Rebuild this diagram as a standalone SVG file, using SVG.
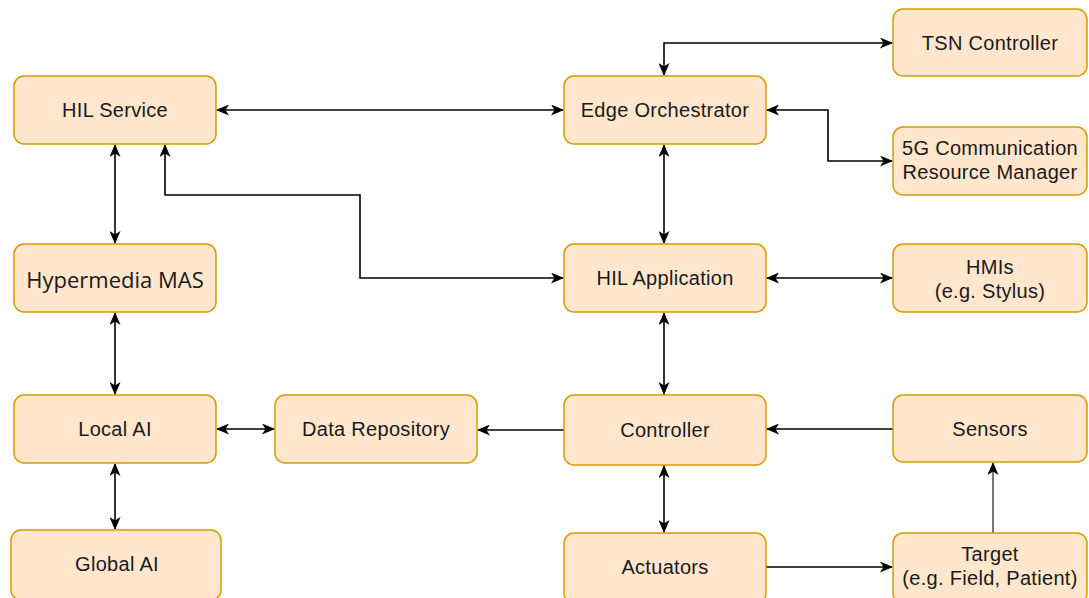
<svg xmlns="http://www.w3.org/2000/svg" width="1089" height="598" viewBox="0 0 1089 598">
<style>
.n rect{fill:#ffe6cc;stroke:#d79b00;stroke-width:1.5}
.n text{font-family:"Liberation Sans",Arial,sans-serif;font-size:20px;letter-spacing:0.3px;fill:#1a1a1a;text-anchor:middle;dominant-baseline:central}
.c path{fill:none;stroke:#000;stroke-width:1.6}
</style>
<defs>
<marker id="a" viewBox="0 0 13 11" refX="12" refY="5.5" markerWidth="13" markerHeight="11" markerUnits="userSpaceOnUse" orient="auto-start-reverse">
<path d="M0,0 L13,5.5 L0,11 L3.5,5.5 z" fill="#000"/>
</marker>
</defs>
<rect width="1089" height="598" fill="#fff"/>
<g class="c">
<path d="M217,110 H563" marker-start="url(#a)" marker-end="url(#a)"/>
<path d="M664,75 V43 H892" marker-start="url(#a)" marker-end="url(#a)"/>
<path d="M767,110 H828 V161 H892" marker-start="url(#a)" marker-end="url(#a)"/>
<path d="M664,145 V243" marker-start="url(#a)" marker-end="url(#a)"/>
<path d="M563,278 H360 V195 H165 V145" marker-start="url(#a)" marker-end="url(#a)"/>
<path d="M115,145 V243" marker-start="url(#a)" marker-end="url(#a)"/>
<path d="M115,313 V394" marker-start="url(#a)" marker-end="url(#a)"/>
<path d="M115,464 V529" marker-start="url(#a)" marker-end="url(#a)"/>
<path d="M217,429 H274" marker-start="url(#a)" marker-end="url(#a)"/>
<path d="M564,430 H478" marker-end="url(#a)"/>
<path d="M893,429 H767" marker-end="url(#a)"/>
<path d="M767,278 H892" marker-start="url(#a)" marker-end="url(#a)"/>
<path d="M664,313 V394" marker-start="url(#a)" marker-end="url(#a)"/>
<path d="M664,466 V532" marker-start="url(#a)" marker-end="url(#a)"/>
<path d="M766,567 H892" marker-end="url(#a)"/>
<path d="M993,533 V463" marker-end="url(#a)" style="stroke:#555"/>
</g>
<g id="hil-service" class="n"><rect x="14" y="76" width="202" height="68" rx="10"/><text x="115" y="110">HIL Service</text></g>
<g id="hypermedia-mas" class="n"><rect x="14" y="244" width="202" height="68" rx="10"/><text x="115" y="279" style="font-family:'Open Sans',sans-serif;font-size:22px;letter-spacing:0">Hypermedia MAS</text></g>
<g id="local-ai" class="n"><rect x="14" y="395" width="202" height="68" rx="10"/><text x="115" y="429">Local AI</text></g>
<g id="global-ai" class="n"><rect x="11" y="530" width="210" height="70" rx="10"/><text x="117" y="564">Global AI</text></g>
<g id="data-repository" class="n"><rect x="275" y="395" width="202" height="68" rx="10"/><text x="376" y="429">Data Repository</text></g>
<g id="edge-orchestrator" class="n"><rect x="564" y="76" width="202" height="68" rx="10"/><text x="665" y="110">Edge Orchestrator</text></g>
<g id="hil-application" class="n"><rect x="564" y="244" width="202" height="68" rx="10"/><text x="665" y="278">HIL Application</text></g>
<g id="controller" class="n"><rect x="564" y="395" width="202" height="70" rx="10"/><text x="665" y="430">Controller</text></g>
<g id="actuators" class="n"><rect x="564" y="533" width="202" height="70" rx="10"/><text x="665" y="567">Actuators</text></g>
<g id="tsn-controller" class="n"><rect x="893" y="9" width="194" height="67" rx="10"/><text x="990" y="43">TSN Controller</text></g>
<g id="5g-manager" class="n"><rect x="893" y="127" width="194" height="68" rx="10"/><text x="990" y="148">5G Communication</text><text x="990" y="172">Resource Manager</text></g>
<g id="hmis" class="n"><rect x="893" y="244" width="194" height="68" rx="10"/><text x="990" y="267">HMIs</text><text x="990" y="291">(e.g. Stylus)</text></g>
<g id="sensors" class="n"><rect x="893" y="395" width="194" height="67" rx="10"/><text x="990" y="429">Sensors</text></g>
<g id="target" class="n"><rect x="893" y="533" width="194" height="70" rx="10"/><text x="990" y="554">Target</text><text x="990" y="578">(e.g. Field, Patient)</text></g>
</svg>
